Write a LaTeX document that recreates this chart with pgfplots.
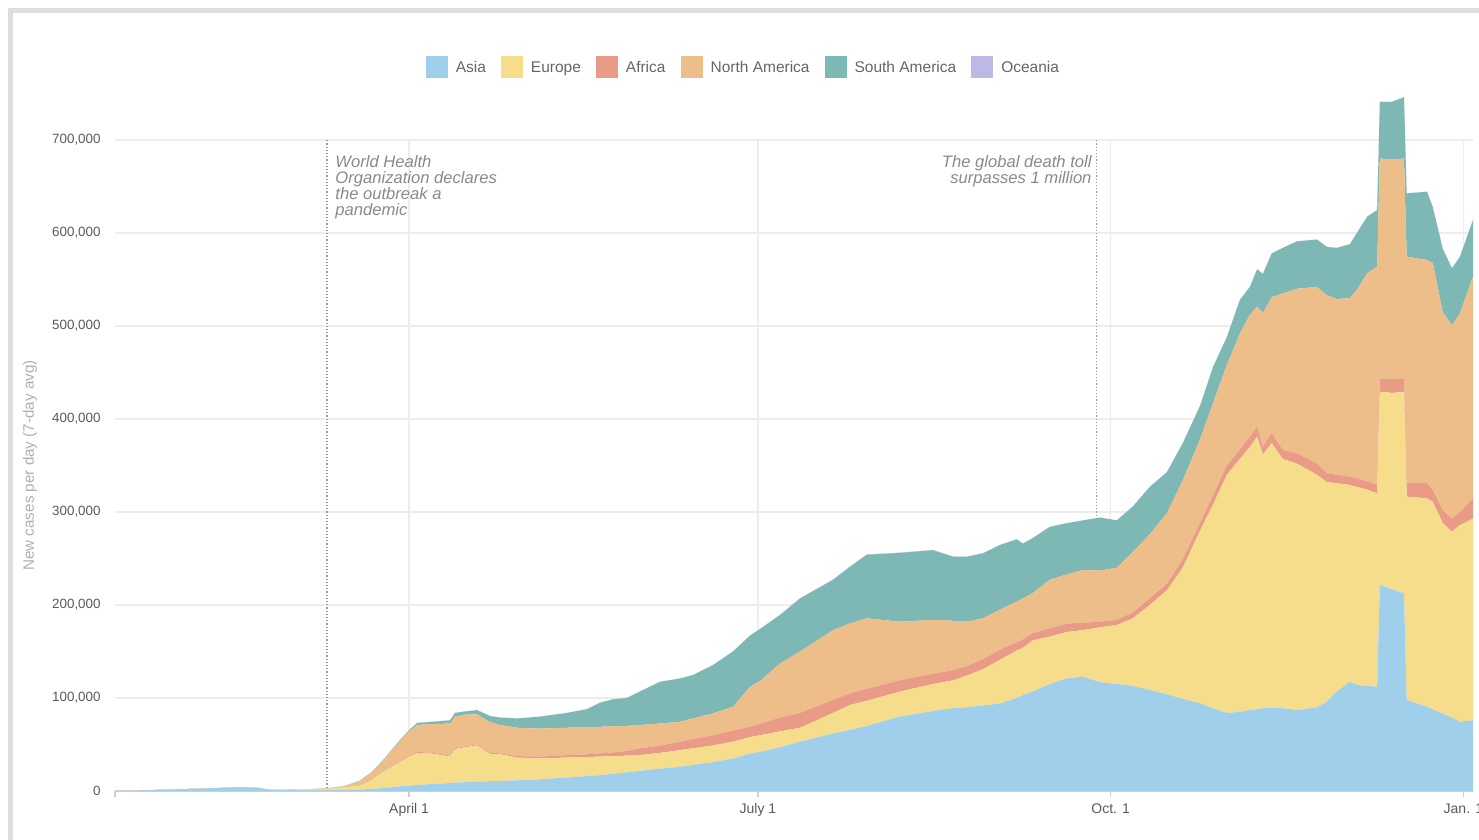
\documentclass[border=0pt]{standalone}
\usepackage{pgfplots}
\pgfplotsset{compat=1.18}
\usepackage{pgfplotstable}
\usepackage{fontspec}
\setmainfont{Liberation Sans}
\definecolor{asiac}{HTML}{9FCFEA}
\definecolor{europec}{HTML}{F5DD8C}
\definecolor{africac}{HTML}{E99B88}
\definecolor{nac}{HTML}{EDBE89}
\definecolor{sac}{HTML}{7EB8B5}
\definecolor{oceaniac}{HTML}{BDB9E6}
\definecolor{gridc}{HTML}{EDEDED}
\definecolor{framec}{HTML}{DEDEDE}
\definecolor{tickc}{HTML}{5A5A5A}
\definecolor{legc}{HTML}{666666}
\definecolor{ylabc}{HTML}{B0B0B0}
\definecolor{annc}{HTML}{8A8A8A}
\definecolor{dotc}{HTML}{9A9A9A}
\definecolor{axc}{HTML}{CFCFCF}
\pgfplotstableread{
day asia europe africa na sa oceania
20.9 500 0 0 0 0 0
27.9 1500 0 0 0 0 0
36.5 2500 0 0 0 0 0
46.9 4000 0 0 0 0 0
51.4 3500 0 0 0 0 0
54.8 1000 100 0 0 0 0
62.6 800 600 0 100 0 0
69.6 700 1800 0 300 100 0
74.3 1000 3000 100 1100 200 100
78.2 1500 4300 200 4500 500 200
81.2 2200 9500 300 7500 500 250
84.2 3000 17500 500 11500 500 300
86.5 4000 22000 500 17000 700 300
88.7 5000 26000 500 22500 1000 300
91.0 5800 31000 800 26000 1500 300
93.1 6500 34500 1000 29000 2000 300
97.3 7500 32500 1000 31000 2500 200
101.7 8500 28500 1000 34500 3500 100
103.0 9000 36000 1000 34000 4000 100
105.6 9500 37500 1000 34000 3500 50
108.7 10000 39000 1000 32500 4500 50
112.1 10500 29500 1000 33000 6600 30
114.7 10700 28800 1000 30500 8000 30
119.2 11500 24500 1500 30500 10000 20
125.2 12500 22500 2000 30000 13000 20
132.2 14500 21500 2500 29500 16000 20
137.4 16000 20500 3000 29000 19500 20
140.8 17000 20000 3500 28500 26000 20
144.2 18500 19000 4000 28000 29100 20
147.8 20000 18000 5000 27000 30000 20
151.2 21800 16900 7000 25300 36000 20
156.5 24000 17000 8000 23500 45000 30
161.7 26000 18000 9000 21500 46500 50
165.1 28000 18000 10000 22000 46700 80
170.3 31000 18000 11000 23500 52000 100
175.5 35000 18000 12000 25600 59400 150
179.9 40000 18000 11000 43000 55000 200
182.5 42000 18000 12000 46000 56000 250
187.7 47000 17000 15000 58000 52000 300
193.0 53000 15000 16000 66000 57000 400
201.6 62000 22000 14000 75000 54000 500
206.0 65600 26900 12500 75000 61000 500
210.4 70000 27000 13000 75700 68300 450
219.0 80000 26800 12200 63000 74000 350
227.6 86000 29000 11000 58000 75000 250
232.9 89000 30000 11000 53000 69000 150
236.5 90000 34000 10000 48000 70000 100
240.7 92000 39000 11000 43700 69900 80
245.1 94000 47000 10600 43400 69500 60
249.5 100000 51000 9000 43600 67000 50
251.1 103000 51000 9000 44000 59000 50
253.7 106800 55200 7600 43400 59000 40
258.1 115000 51000 9000 52000 57000 40
262.6 121000 50000 9000 53000 55000 30
266.8 123000 50000 8000 56600 53400 30
271.2 117000 59000 6000 55000 57000 30
275.6 115000 63500 5500 56000 51000 30
279.8 113000 72700 6300 65000 49000 30
284.2 108600 91400 7000 69000 51000 30
288.7 104000 112000 7000 76000 44000 30
292.8 99000 141000 9000 85000 40000 30
297.3 94300 185700 8000 90000 36000 30
300.7 89000 219000 10000 99000 39000 30
304.3 84000 256000 10000 108000 30000 30
307.7 85000 272000 10000 125000 36000 30
310.3 87000 283000 11000 131000 30000 30
312.2 88000 293000 10700 129300 40000 30
313.7 89000 273000 8000 144000 42000 30
316.0 89000 285000 10600 146400 47000 30
318.9 89000 268000 9700 168300 49000 30
322.6 87000 265000 11000 177000 51000 30
327.8 90000 250000 12000 190000 51000 30
330.4 96000 236000 9600 191400 52000 30
333.0 106800 224200 9000 189000 55000 30
336.4 117500 211500 9000 192000 58000 30
338.2 114000 213000 9000 202700 61300 30
340.9 113000 211000 9000 223700 60800 30
343.5 112000 208000 9000 234800 60900 30
344.2 221500 207900 14400 236200 61000 30
347.3 217000 211000 15000 236000 62000 30
350.5 212600 216400 14800 236200 66000 30
351.2 97800 218700 14500 243500 68100 30
356.5 90600 224100 16300 240000 73400 30
358.0 88000 223000 12700 244300 60000 30
360.6 83000 205000 14000 213000 68000 30
363.0 79000 199800 14200 208000 61000 30
365.1 74500 211500 14000 213700 60800 30
368.5 76000 217000 21700 238300 61000 30
}\covid
\begin{document}
\begin{tikzpicture}
\useasboundingbox (0,0) rectangle (739.5pt,420pt);
\clip (0,0) rectangle (739.5pt,420pt);
\fill[white] (0,0) rectangle (739.5pt,420pt);
\fill[framec] (4pt,0) rectangle (6.5pt,416pt);
\fill[framec] (4pt,413.5pt) rectangle (739.5pt,416pt);
\begin{axis}[
  at={(57.5pt,24.5pt)}, anchor=south west,
  scale only axis, width=679pt, height=325.5pt,
  xmin=14.3, xmax=368.5, ymin=0, ymax=700000,
  clip=false,
  stack plots=y,
  axis lines*=left,
  x axis line style={draw=axc, line width=0.6pt},
  y axis line style={draw=none},
  xtick={91,182,274,366},
  xticklabels={April 1, July 1, Oct. 1, Jan. 1},
  extra x ticks={14.3}, extra x tick labels={}, extra x tick style={xmajorgrids=false},
  ytick={0,100000,200000,300000,400000,500000,600000,700000},
  yticklabels={0,{100,000},{200,000},{300,000},{400,000},{500,000},{600,000},{700,000}},
  scaled y ticks=false,
  tick align=outside, major tick length=3pt,
  xtick style={draw=axc, line width=0.6pt},
  ytick style={draw=none},
  xmajorgrids, ymajorgrids,
  major grid style={draw=gridc, line width=0.6pt},
  xticklabel style={font=\fontsize{7}{8}\selectfont, text=tickc, inner sep=0pt, yshift=-3pt},
  yticklabel style={font=\fontsize{6.7}{8}\selectfont, text=tickc, inner sep=0pt, xshift=-4pt},
  ylabel={New cases per day (7-day avg)},
  ylabel style={at={(axis description cs:-0.0626,0.5)}, anchor=center, font=\fontsize{7.6}{9}\selectfont, text=ylabc},
  legend columns=6,
  legend style={at={(0.462,1.112)}, anchor=center, draw=none, fill=none,
    font=\fontsize{7.75}{9}\selectfont, text=legc,
    nodes={inner sep=0pt, text height=0.72em, text depth=0.22em},
    /tikz/every odd column/.append style={column sep=4pt},
    /tikz/every even column/.append style={column sep=7.5pt}},
  legend image code/.code={\fill[#1] (0pt,-5.5pt) rectangle (11pt,5.5pt);},
]
\addplot[fill=asiac, draw=none] table[x=day, y=asia] {\covid} \closedcycle;
\addlegendentry{Asia}
\addplot[fill=europec, draw=none] table[x=day, y=europe] {\covid} \closedcycle;
\addlegendentry{Europe}
\addplot[fill=africac, draw=none] table[x=day, y=africa] {\covid} \closedcycle;
\addlegendentry{Africa}
\addplot[fill=nac, draw=none] table[x=day, y=na] {\covid} \closedcycle;
\addlegendentry{North America}
\addplot[fill=sac, draw=none] table[x=day, y=sa] {\covid} \closedcycle;
\addlegendentry{South America}
\addplot[fill=oceaniac, draw=none] table[x=day, y=oceania] {\covid} \closedcycle;
\addlegendentry{Oceania}
\draw[dotc, densely dotted, line width=0.6pt] (axis cs:69.6,0) -- (axis cs:69.6,700000);
\draw[dotc, densely dotted, line width=0.6pt] (axis cs:270.4,0) -- (axis cs:270.4,700000);
\node[anchor=north west, align=left, inner sep=0pt, font=\fontsize{8.3}{8}\selectfont\itshape, text=annc] at (axis cs:71.7,684000) {World Health\\Organization declares\\the outbreak a\\pandemic};
\node[anchor=north east, align=right, inner sep=0pt, font=\fontsize{8.3}{8}\selectfont\itshape, text=annc] at (axis cs:269.1,684000) {The global death toll\\surpasses 1 million};
\end{axis}
\end{tikzpicture}
\end{document}
